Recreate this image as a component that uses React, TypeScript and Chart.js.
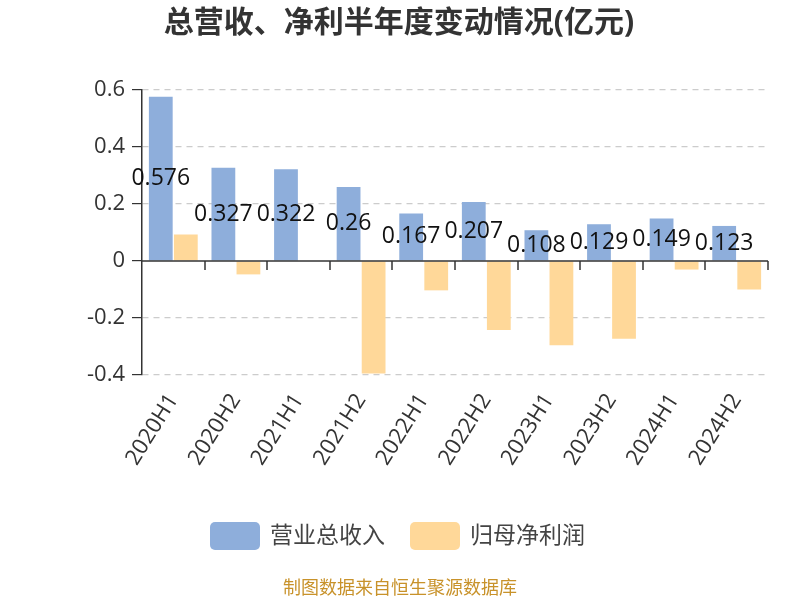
import React, { useEffect, useRef } from "react";
import { Chart, registerables } from "chart.js";

Chart.register(...registerables);

const categories = ["2020H1", "2020H2", "2021H1", "2021H2", "2022H1", "2022H2", "2023H1", "2023H2", "2024H1", "2024H2"];
const revenue = [0.576, 0.327, 0.322, 0.26, 0.167, 0.207, 0.108, 0.129, 0.149, 0.123];
const netProfit = [0.093, -0.047, -0.002, -0.395, -0.103, -0.242, -0.296, -0.273, -0.03, -0.1];
const seriesNames = ["营业总收入", "归母净利润"];
const title = "总营收、净利半年度变动情况(亿元)";
const source = "制图数据来自恒生聚源数据库";

const BLUE = "#8eaedb";
const ORANGE = "#ffd899";
const FONT = "'Open Sans', 'Noto Sans CJK SC', sans-serif";

const decorPlugin = {
  id: "decor",
  afterDatasetsDraw(chart: any) {
    const ctx = chart.ctx;
    const meta = chart.getDatasetMeta(0);
    ctx.save();
    ctx.font = `23px ${FONT}`;
    ctx.fillStyle = "#111";
    ctx.textAlign = "center";
    ctx.textBaseline = "middle";
    meta.data.forEach((bar: any, i: number) => {
      const y = (bar.y + bar.base) / 2;
      ctx.fillText(String(revenue[i]), bar.x, y);
    });
    ctx.restore();
  },
  afterDraw(chart: any) {
    const ctx = chart.ctx;
    const area = chart.chartArea;
    const ys = chart.scales.y;
    const xs = chart.scales.x;
    const y0 = ys.getPixelForValue(0);
    ctx.save();
    // zero line
    ctx.strokeStyle = "#333";
    ctx.lineWidth = 1.5;
    ctx.beginPath();
    ctx.moveTo(area.left, y0);
    ctx.lineTo(area.right, y0);
    ctx.stroke();
    // category ticks
    const n = categories.length;
    for (let i = 1; i <= n; i++) {
      const x = Math.round(xs.getPixelForValue(i - 0.5));
      ctx.beginPath();
      ctx.moveTo(x, y0);
      ctx.lineTo(x, y0 + 9);
      ctx.stroke();
    }
    // title
    ctx.fillStyle = "#333";
    ctx.font = `bold 30px ${FONT}`;
    ctx.textAlign = "center";
    ctx.textBaseline = "middle";
    ctx.fillText(title, 399, 23);
    // legend
    const items = [
      { x: 210, color: BLUE, text: seriesNames[0] },
      { x: 410, color: ORANGE, text: seriesNames[1] },
    ];
    ctx.font = `23px ${FONT}`;
    ctx.textAlign = "left";
    items.forEach((it) => {
      ctx.fillStyle = it.color;
      ctx.beginPath();
      (ctx as any).roundRect(it.x, 522, 50, 28, 5);
      ctx.fill();
      ctx.fillStyle = "#444";
      ctx.fillText(it.text, it.x + 60, 536);
    });
    // source
    ctx.fillStyle = "#c8922a";
    ctx.font = `18px ${FONT}`;
    ctx.textAlign = "center";
    ctx.fillText(source, 400, 589);
    ctx.restore();
  },
};

export default function App() {
  const ref = useRef<HTMLCanvasElement>(null);
  useEffect(() => {
    if (!ref.current) return;
    const chart = new Chart(ref.current, {
      type: "bar",
      data: {
        labels: categories,
        datasets: [
          { label: seriesNames[0], data: revenue, backgroundColor: BLUE, categoryPercentage: 0.8, barPercentage: 0.95 },
          { label: seriesNames[1], data: netProfit, backgroundColor: ORANGE, categoryPercentage: 0.8, barPercentage: 0.95 },
        ],
      },
      options: {
        responsive: false,
        animation: false,
        layout: { padding: { top: 90, right: 32, bottom: 0, left: 0 } },
        plugins: { legend: { display: false }, title: { display: false }, tooltip: { enabled: false } },
        scales: {
          x: {
            grid: { display: false, drawTicks: false },
            border: { display: false },
            ticks: {
              color: "#333",
              font: { family: FONT, size: 22 },
              maxRotation: 58,
              minRotation: 58,
              padding: 14,
              autoSkip: false,
            },
            afterFit(scale: any) {
              scale.height = 225;
            },
          },
          y: {
            min: -0.4,
            max: 0.6,
            grid: {
              color: (c: any) => (c.tick && Math.abs(c.tick.value) < 1e-9 ? "rgba(0,0,0,0)" : "#cccccc"),
              tickColor: "#333",
              tickLength: 10,
              tickBorderDash: [],
              lineWidth: 1.2,
            },
            border: { display: true, color: "#333", width: 1.5, dash: [6, 5] },
            ticks: {
              stepSize: 0.2,
              color: "#333",
              padding: 7,
              font: { family: FONT, size: 22 },
              callback: (v: any) => {
                const n = Math.round(Number(v) * 10) / 10;
                return n === 0 ? "0" : String(n);
              },
            },
            afterFit(scale: any) {
              scale.width = 142;
            },
          },
        },
      },
      plugins: [decorPlugin],
    });
    return () => chart.destroy();
  }, []);
  return (
    <div style={{ position: "absolute", left: 0, top: 0, width: 800, height: 600, background: "#fff" }}>
      <canvas ref={ref} width={800} height={600} style={{ display: "block" }} />
    </div>
  );
}
